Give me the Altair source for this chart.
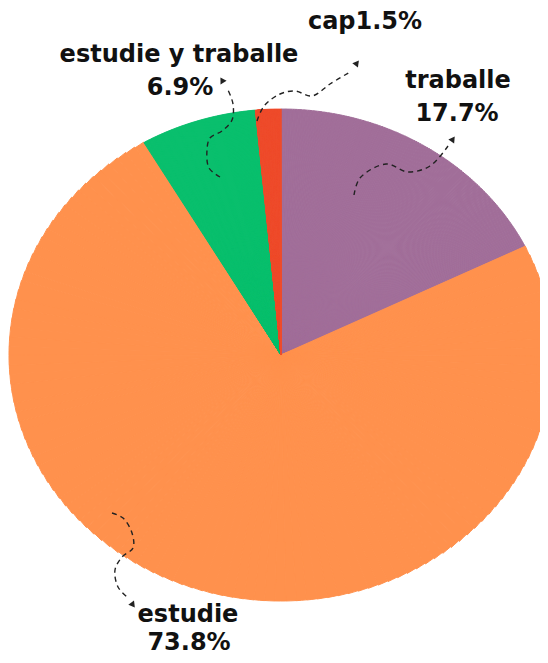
import altair as alt
import pandas as pd
import math

# ---- data ----
categories = ["traballe", "estudie", "estudie y traballe", "cap"]
values = [17.7, 73.8, 6.9, 1.5]
colors = ["#A16E99", "#FF914D", "#09BF6D", "#EE4C2C"]

label_names = ["traballe", "estudie", "estudie y traballe", "cap1.5%"]
label_pcts = ["17.7%", "73.8%", "6.9%", ""]

# ---- layout (view pixel coords; page = view + 8) ----
RX, RY = 272, 246
CX, CY = 273, 347
N = 120
TWO_PI = 2 * math.pi

name_pos = [(450, 73), (180, 607), (171, 47), (357, 14)]
pct_pos = [(449, 106), (181, 635), (172, 80), (0, 0)]

# dashed arrow paths (annotation decorations)
arrow_paths = {
    "a1": [(346, 187), (352, 170), (378, 156), (400, 164), (422, 158), (440, 138)],
    "a2": [(249, 113), (256, 98), (272, 86), (287, 83), (304, 88), (322, 76), (342, 64)],
    "a3": [(212, 169), (201, 160), (199, 142), (202, 130), (214, 123), (224, 112), (225, 96), (220, 82)],
    "a4": [(104, 505), (115, 510), (124, 525), (125, 540), (114, 549), (107, 562), (110, 579), (119, 589)],
}
arrow_heads = [("a1", 445, 131, 35), ("a2", 349, 55, 38), ("a3", 214, 72, 329), ("a4", 125, 597, 143)]

# ---- pie (ellipse via fine sub-arcs) ----
pie_df = pd.DataFrame({"cat": categories, "value": values, "order": list(range(len(categories)))})

def polar(p):
    return (f"{p} >= 0.9999999 ? 2*PI : "
            f"(atan2({RX}*sin(2*PI*{p}), {RY}*cos(2*PI*{p})) + 2*PI) % (2*PI)")

color_scale = alt.Scale(domain=categories, range=colors)

pie = (
    alt.Chart(pie_df)
    .transform_window(cum="sum(value)", sort=[alt.SortField("order")], frame=[None, 0])
    .transform_joinaggregate(total="sum(value)")
    .transform_calculate(k=f"sequence(0, {N})")
    .transform_flatten(["k"])
    .transform_calculate(f0="(datum.cum - datum.value) / datum.total")
    .transform_calculate(w="datum.value / datum.total")
    .transform_calculate(p0=f"datum.f0 + datum.w * datum.k / {N}")
    .transform_calculate(p1=f"datum.f0 + datum.w * (datum.k + 1) / {N}")
    .transform_calculate(pm="(datum.p0 + datum.p1) / 2")
    .transform_calculate(t0=polar("datum.p0"))
    .transform_calculate(t1=polar("datum.p1"))
    .transform_calculate(r=f"sqrt(pow({RX}*sin(2*PI*datum.pm), 2) + pow({RY}*cos(2*PI*datum.pm), 2))")
    .mark_arc(x=CX, y=CY, strokeWidth=1)
    .encode(
        theta=alt.Theta("t0:Q", scale=alt.Scale(domain=[0, TWO_PI], range=[0, TWO_PI]), stack=None),
        theta2="t1:Q",
        radius=alt.Radius("r:Q", scale=alt.Scale(type="linear", domain=[0, 300], range=[0, 300])),
        color=alt.Color("cat:N", scale=color_scale, legend=None),
        stroke=alt.Stroke("cat:N", scale=color_scale, legend=None),
    )
)

# ---- labels ----
rows = []
for nm, (x, y) in zip(label_names, name_pos):
    rows.append({"t": nm, "x": x, "y": y})
for pc, (x, y) in zip(label_pcts, pct_pos):
    if pc:
        rows.append({"t": pc, "x": x, "y": y})
lab_df = pd.DataFrame(rows)

labels = alt.Chart(lab_df).mark_text(
    font="DejaVu Sans", fontWeight="bold", fontSize=24, color="#111111",
    align="center", baseline="middle"
).encode(
    x=alt.X("x:Q", scale=None, axis=None),
    y=alt.Y("y:Q", scale=None, axis=None),
    text="t:N",
)

# ---- arrows ----
arows = []
for aid, pts in arrow_paths.items():
    for i, (x, y) in enumerate(pts):
        arows.append({"a": aid, "i": i, "x": x, "y": y})
arrow_df = pd.DataFrame(arows)

lines = alt.Chart(arrow_df).mark_line(
    color="#222222", strokeWidth=1.4, strokeDash=[5, 4], interpolate="catmull-rom"
).encode(
    x=alt.X("x:Q", scale=None, axis=None),
    y=alt.Y("y:Q", scale=None, axis=None),
    detail="a:N",
    order="i:Q",
)

head_df = pd.DataFrame(arrow_heads, columns=["a", "x", "y", "ang"])
heads = alt.Chart(head_df).mark_point(
    shape="triangle-up", filled=True, color="#222222", size=50, opacity=1
).encode(
    x=alt.X("x:Q", scale=None, axis=None),
    y=alt.Y("y:Q", scale=None, axis=None),
    angle=alt.Angle("ang:Q", scale=None),
)

chart = (
    alt.layer(pie, lines, heads, labels)
    .properties(width=532, height=647, padding=0, autosize="none", background="white")
    .configure_view(stroke=None)
)

chart.save("out.html", embed_options={"renderer": "svg", "actions": False})
